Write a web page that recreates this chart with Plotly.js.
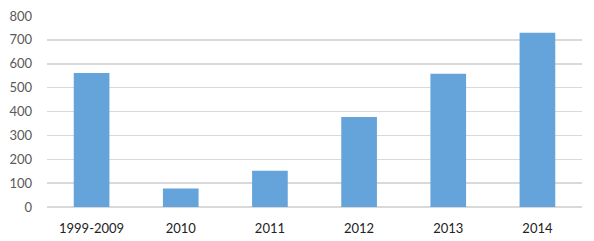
<!DOCTYPE html>
<html>
<head>
<meta charset="utf-8">
<script src="https://cdn.plot.ly/plotly-3.0.1.min.js"></script>
<style>html,body{margin:0;padding:0;background:#fff;}#chart{width:594px;height:241px;}</style>
</head>
<body>
<div id="chart"></div>
<script>
const categories = ["1999-2009", "2010", "2011", "2012", "2013", "2014"];
const values = [561, 77, 152, 377, 558, 730];
const yTicks = [0, 100, 200, 300, 400, 500, 600, 700, 800];

Plotly.newPlot("chart", [{
  type: "bar",
  x: categories,
  y: values,
  marker: {color: "#65A3DB"},
  hoverinfo: "none"
}], {
  width: 594,
  height: 241,
  margin: {l: 47, r: 12, t: 16, b: 34},
  paper_bgcolor: "#fff",
  plot_bgcolor: "#fff",
  bargap: 0.6,
  showlegend: false,
  xaxis: {
    type: "category",
    showgrid: false,
    zeroline: false,
    showline: false,
    ticks: "",
    ticklabelstandoff: 12,
    tickfont: {family: "Lato, 'Open Sans', sans-serif", size: 13, color: "#222"},
    fixedrange: true
  },
  yaxis: {
    range: [0, 800],
    tickvals: yTicks,
    ticktext: yTicks.map(String),
    showgrid: true,
    gridcolor: "#D9D9D9",
    gridwidth: 1.5,
    zeroline: true,
    zerolinecolor: "#D9D9D9",
    zerolinewidth: 1.5,
    showline: false,
    ticks: "",
    ticklabelstandoff: 14,
    tickfont: {family: "Lato, 'Open Sans', sans-serif", size: 13, color: "#595959"},
    fixedrange: true
  }
}, {displayModeBar: false, staticPlot: true});
</script>
</body>
</html>
